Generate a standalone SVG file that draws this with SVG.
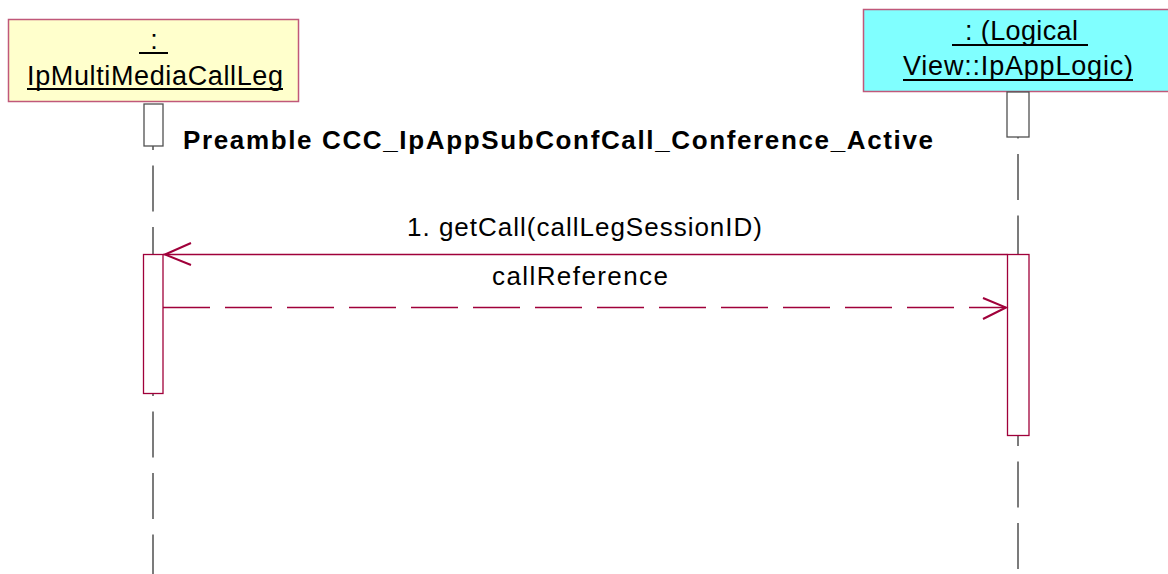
<svg xmlns="http://www.w3.org/2000/svg" width="1168" height="574" viewBox="0 0 1168 574">
<defs>
<style>
.obj{stroke:#C0587A;stroke-width:1.5}
.lbl{font-family:"Liberation Sans",Arial,sans-serif;font-size:27px;fill:#000}
.ul{stroke:#000;stroke-width:2}
.msg{font-family:"Liberation Sans",Arial,sans-serif;font-size:26px;fill:#000}
.pre{font-family:"Liberation Sans",Arial,sans-serif;font-size:26px;font-weight:bold;fill:#000}
.life{stroke:#505050;stroke-width:1.5;stroke-dasharray:46 15.5;fill:none}
.act{fill:#fff;stroke:#A0003A;stroke-width:1.3}
.actg{fill:#fff;stroke:#505050;stroke-width:1.3}
.ln{stroke:#A0003A;stroke-width:1.3;fill:none}
.ah{stroke:#A0003A;stroke-width:2;fill:none}
</style>
</defs>
<rect width="1168" height="574" fill="#fff"/>
<g id="lifelines">
<line class="life" x1="153" y1="104" x2="153" y2="574"/>
<line class="life" x1="1018" y1="92.5" x2="1018" y2="574"/>
</g>
<g id="obj-left">
<rect class="obj" x="8.5" y="19.5" width="290" height="82" fill="#FFFFCC"/>
<text class="lbl" x="154" y="49" text-anchor="middle">:</text>
<line class="ul" x1="139" y1="53" x2="168" y2="53"/>
<text class="lbl" x="27" y="85" textLength="256" lengthAdjust="spacing">IpMultiMediaCallLeg</text>
<line class="ul" x1="27" y1="89" x2="283" y2="89"/>
<rect class="actg" x="144" y="104" width="19" height="42"/>
<rect class="act" x="143.5" y="254.5" width="19.5" height="139"/>
</g>
<g id="obj-right">
<rect class="obj" x="863.5" y="9.5" width="310" height="82" fill="#80FFFF"/>
<text class="lbl" x="965" y="40" textLength="113" lengthAdjust="spacing">: (Logical</text>
<line class="ul" x1="952" y1="45" x2="1088" y2="45"/>
<text class="lbl" x="903" y="75" textLength="230" lengthAdjust="spacing">View::IpAppLogic)</text>
<line class="ul" x1="903" y1="80" x2="1133" y2="80"/>
<rect class="actg" x="1007" y="92" width="22" height="45"/>
<rect class="act" x="1007.5" y="254.5" width="21.5" height="181"/>
</g>
<g id="preamble">
<text class="pre" x="183" y="149" textLength="750" lengthAdjust="spacing">Preamble CCC_IpAppSubConfCall_Conference_Active</text>
</g>
<g id="connectors">
<g id="msg1">
<line class="ln" x1="163" y1="254.5" x2="1007.5" y2="254.5"/>
<polyline class="ah" points="191,243 165,254.5 191,265"/>
<text class="msg" x="407" y="236" textLength="355" lengthAdjust="spacing">1. getCall(callLegSessionID)</text>
</g>
<g id="msg2">
<line class="ln" x1="163" y1="307.5" x2="1006" y2="307.5" stroke-dasharray="47 15"/>
<polyline class="ah" points="983,298 1006,307.5 983,319"/>
<text class="msg" x="492" y="285" textLength="176" lengthAdjust="spacing">callReference</text>
</g>
</g>
</svg>
